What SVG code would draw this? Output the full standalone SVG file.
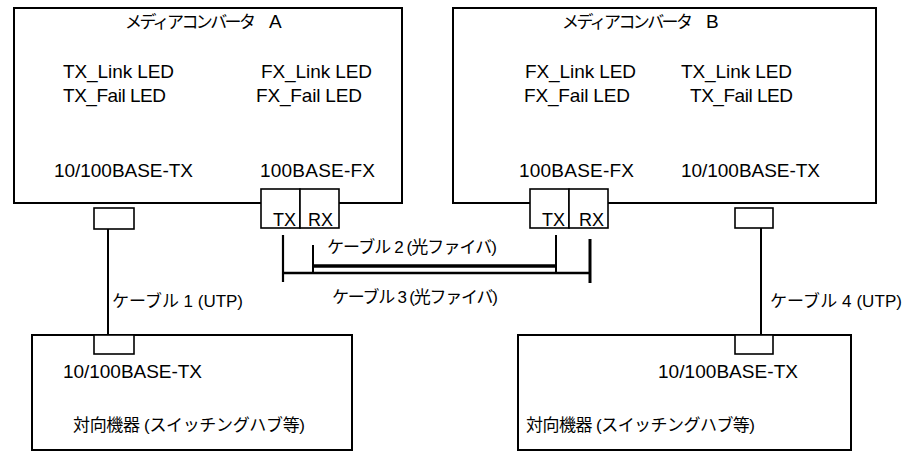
<svg xmlns="http://www.w3.org/2000/svg" width="904" height="452" viewBox="0 0 904 452">
<style>
.box{fill:#fff;stroke:#000;stroke-width:2}
.port{fill:#fff;stroke:#000;stroke-width:1.6}
.t{font-family:"Liberation Sans","Noto Sans CJK JP",sans-serif;fill:#000}
.l{font-size:19px}
.j{font-size:17px}
.p{font-size:18px}
.w{stroke:#000;fill:none}
</style>
<rect width="904" height="452" fill="#fff"/>
<g id="converterA">
<rect class="box" x="14" y="8" width="388" height="195"/>
<text class="t j" x="125" y="28" textLength="131">メディアコンバータ</text>
<text class="t l" x="269" y="28" font-size="17">A</text>
<text class="t l" x="63" y="78" textLength="111">TX_Link LED</text>
<text class="t l" x="63" y="102" textLength="103">TX_Fail LED</text>
<text class="t l" x="261" y="78" textLength="111">FX_Link LED</text>
<text class="t l" x="256" y="102" textLength="106">FX_Fail LED</text>
<text class="t l" x="54" y="177" textLength="139">10/100BASE-TX</text>
<text class="t l" x="260" y="177" textLength="115">100BASE-FX</text>
<rect class="port" x="261" y="189" width="39" height="39"/>
<rect class="port" x="300" y="189" width="39" height="39"/>
<text class="t p" x="273" y="226">TX</text>
<text class="t p" x="308" y="226">RX</text>
<rect class="port" x="94" y="208" width="40" height="21"/>
</g>
<g id="converterB">
<rect class="box" x="453" y="8" width="423" height="195"/>
<text class="t j" x="562" y="28" textLength="131">メディアコンバータ</text>
<text class="t l" x="706" y="28" font-size="17">B</text>
<text class="t l" x="525" y="78" textLength="111">FX_Link LED</text>
<text class="t l" x="524" y="102" textLength="106">FX_Fail LED</text>
<text class="t l" x="681" y="78" textLength="111">TX_Link LED</text>
<text class="t l" x="690" y="102" textLength="103">TX_Fail LED</text>
<text class="t l" x="519" y="177" textLength="115">100BASE-FX</text>
<text class="t l" x="681" y="177" textLength="139">10/100BASE-TX</text>
<rect class="port" x="530" y="189" width="39" height="39"/>
<rect class="port" x="569" y="189" width="39" height="39"/>
<text class="t p" x="542" y="226">TX</text>
<text class="t p" x="579" y="226">RX</text>
<rect class="port" x="735" y="208" width="38" height="20"/>
</g>
<g id="peerA">
<rect class="box" x="32" y="335" width="320" height="115"/>
<rect class="port" x="94" y="335" width="40" height="19"/>
<text class="t l" x="63" y="378" textLength="139">10/100BASE-TX</text>
<text class="t j" x="73" y="431" textLength="232">対向機器 (スイッチングハブ等)</text>
</g>
<g id="peerB">
<rect class="box" x="518" y="335" width="333" height="115"/>
<rect class="port" x="735" y="335" width="38" height="19"/>
<text class="t l" x="658" y="378" textLength="140">10/100BASE-TX</text>
<text class="t j" x="526" y="431" textLength="229">対向機器 (スイッチングハブ等)</text>
</g>
<g id="connectors">
<line class="w" x1="108" y1="229" x2="108" y2="335" stroke-width="2"/>
<line class="w" x1="761" y1="228" x2="761" y2="335" stroke-width="2"/>
<line class="w" x1="283" y1="235" x2="283" y2="282" stroke-width="2.2"/>
<line class="w" x1="282" y1="273" x2="591" y2="273" stroke-width="2.4"/>
<line class="w" x1="590" y1="239" x2="590" y2="283" stroke-width="3"/>
<line class="w" x1="313" y1="245" x2="313" y2="274" stroke-width="2"/>
<line class="w" x1="313" y1="266" x2="557" y2="266" stroke-width="3.6"/>
<line class="w" x1="556" y1="235" x2="556" y2="274" stroke-width="2"/>
<text class="t j" x="112" y="307" textLength="131">ケーブル 1 (UTP)</text>
<text class="t j" x="327" y="253" textLength="170">ケーブル 2 (光ファイバ)</text>
<text class="t j" x="332" y="303" textLength="166">ケーブル 3 (光ファイバ)</text>
<text class="t j" x="770" y="307" textLength="132">ケーブル 4 (UTP)</text>
</g>
</svg>
